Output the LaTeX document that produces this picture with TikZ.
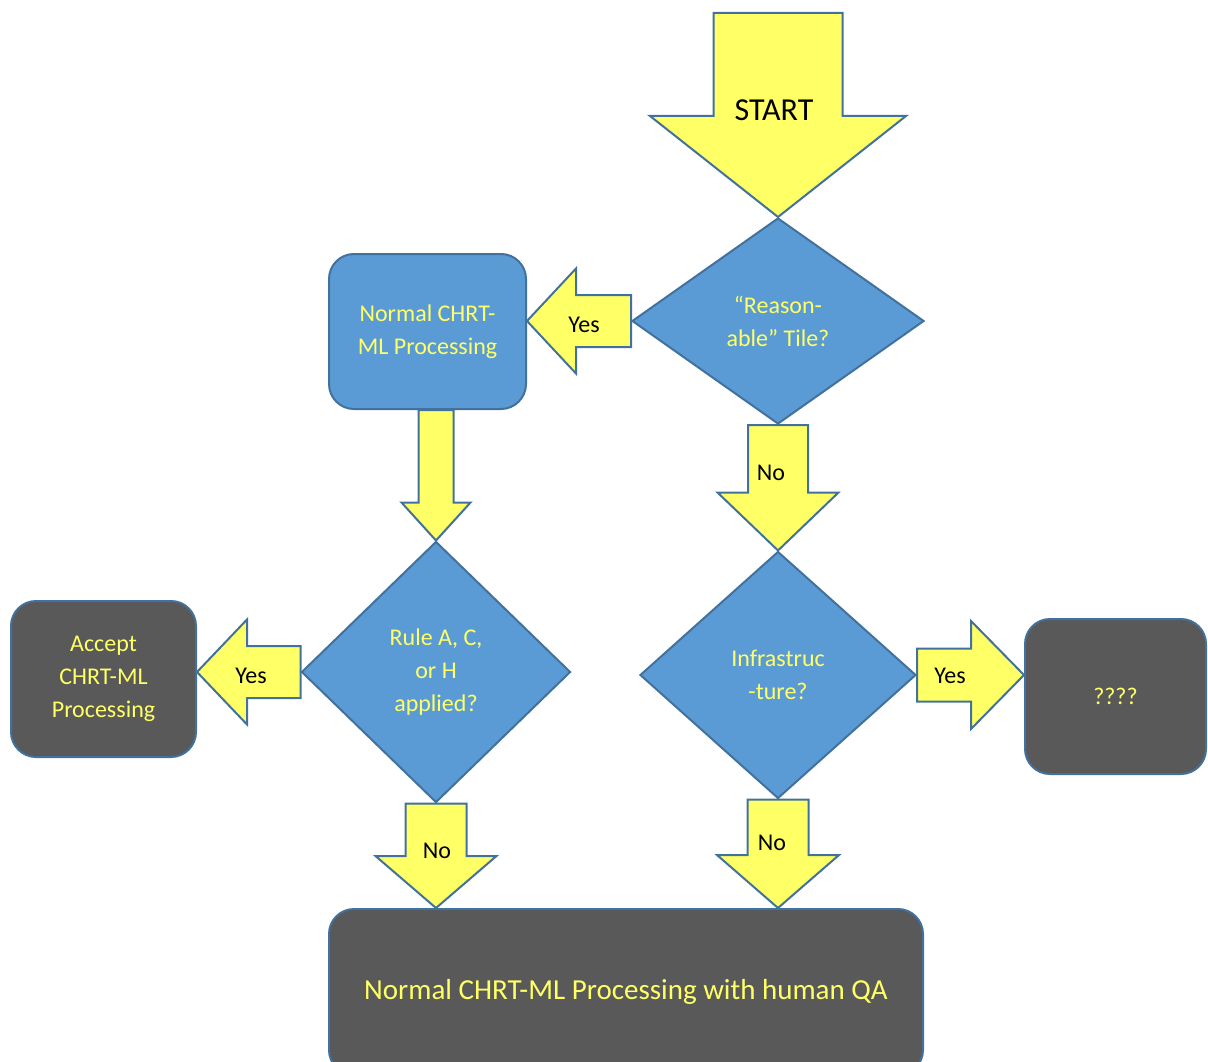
\documentclass[tikz,border=0pt]{standalone}
\usepackage{fontspec}
\setmainfont{Carlito}
\usetikzlibrary{calc,shapes.geometric}
\definecolor{boxblue}{HTML}{5B9BD5}
\definecolor{edgeblue}{HTML}{41719C}
\definecolor{boxgrey}{HTML}{595959}
\definecolor{arrowyellow}{HTML}{FFFF66}
\definecolor{textyellow}{HTML}{FFFF66}
\tikzset{
	blockarrow/.style={draw=edgeblue, line width=2pt, fill=arrowyellow, line join=miter},
	decision/.style={diamond, draw=edgeblue, line width=2pt, fill=boxblue, inner sep=0pt, align=center, text=textyellow, font=\fontsize{24}{33}\selectfont},
	process/.style={rectangle, rounded corners=25pt, draw=edgeblue, line width=2pt, fill=boxblue, inner sep=0pt, align=center, text=textyellow, font=\fontsize{24}{33}\selectfont},
	outcome/.style={process, fill=boxgrey},
	answer/.style={text=black, font=\fontsize{24}{29}\selectfont}
}
% block arrow pointing down: (from)(to)(shaft:head:headlength)
\def\blockv(#1)(#2)(#3:#4:#5){\draw[blockarrow] ($(#2 |- #1)+(-#3,0)$) -- ($(#2 |- #1)+(#3,0)$) -- ($(#2)+(#3,-#5)$) -- ($(#2)+(#4,-#5)$) -- (#2) -- ($(#2)+(-#4,-#5)$) -- ($(#2)+(-#3,-#5)$) -- cycle;}
% block arrow sideways: (from)(to)(shaft:head:headlength), negative length points right
\def\blockh(#1)(#2)(#3:#4:#5){\draw[blockarrow] ($(#1)+(0,-#3)$) -- ($(#2 |- #1)+(#5,-#3)$) -- ($(#2 |- #1)+(#5,-#4)$) -- (#2 |- #1) -- ($(#2 |- #1)+(#5,#4)$) -- ($(#2 |- #1)+(#5,#3)$) -- ($(#1)+(0,#3)$) -- cycle;}

\begin{document}
\begin{tikzpicture}[x=1pt, y=-1pt]
	\useasboundingbox (0,0) rectangle (1208,1062);
	
	% decisions
	\node[decision, minimum width=292pt, minimum height=206pt] (tile) at (778,321) {“Reason-\\able” Tile?};
	\node[decision, minimum width=269pt, minimum height=261pt] (rule) at (436,672) {Rule A, C,\\or H\\applied?};
	\node[decision, minimum width=276pt, minimum height=247pt] (infra) at (778,675) {Infrastruc\\-ture?};
	
	% results
	\node[process, minimum width=197pt, minimum height=155pt] (normal) at (427.5,331.5) {Normal CHRT-\\ML Processing};
	\node[outcome, minimum width=185pt, minimum height=156pt] (accept) at (103.5,679) {Accept\\CHRT-ML\\Processing};
	\node[outcome, minimum width=181pt, minimum height=155pt] (unknown) at (1115.5,696.5) {????};
	\node[outcome, minimum width=594pt, minimum height=166pt, font=\fontsize{29}{35}\selectfont] (qa) at (626,992) {Normal CHRT-ML Processing with human QA};
	
	\coordinate (top) at (777,13);
	\coordinate (qa-left) at (qa.north -| rule.south);
	\coordinate (qa-right) at (qa.north -| infra.south);
	
	% arrows
	\blockv(top)(tile.north)(64.5:128:101)
	\blockh(tile.west)(normal.east)(26:52.5:49)
	\blockv(normal.south)(rule.north)(17.5:34.5:38)
	\blockv(tile.south)(infra.north)(30:60.5:58)
	\blockh(rule.west)(accept.east)(26:52.5:50)
	\blockh(infra.east)(unknown.west)(26.5:54:-53)
	\blockv(rule.south)(qa-left)(30.5:60.5:52)
	\blockv(infra.south)(qa-right)(30.5:61:53)
	
	% labels
	\node[answer, font=\fontsize{32}{38}\selectfont] (start) at (774,110) {START};
	\node[answer] (yes-tile) at (584,325) {Yes};
	\node[answer] (yes-rule) at (251,676) {Yes};
	\node[answer] (yes-infra) at (950,676) {Yes};
	\node[answer] (no-tile) at (771,473) {No};
	\node[answer] (no-rule) at (437,851) {No};
	\node[answer] (no-infra) at (772,843) {No};
\end{tikzpicture}
\end{document}
